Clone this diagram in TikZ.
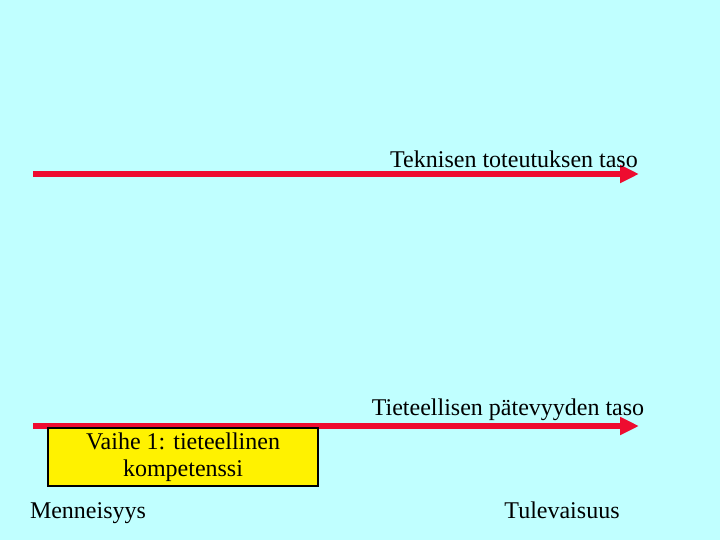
\documentclass[tikz,border=0pt]{standalone}
\usepackage{fontspec}
\setmainfont{Liberation Serif}
\usetikzlibrary{arrows.meta}
\definecolor{bgcyan}{RGB}{192,255,255}
\definecolor{arrred}{RGB}{238,12,48}
\tikzset{
  lvlarrow/.style={draw=arrred, line width=6pt, -{Triangle[length=19pt,width=17pt]}},
  lbl/.style={font=\fontsize{24}{28}\selectfont, inner sep=0pt, anchor=base},
  phasebox/.style={draw=black, line width=1.6pt, fill=yellow, minimum width=270pt, minimum height=58pt, inner sep=0pt, align=center, font=\fontsize{24}{27}\selectfont}
}
\begin{document}
\begin{tikzpicture}[x=1pt,y=-1pt]
\fill[bgcyan] (0,0) rectangle (720,540);
\useasboundingbox (0,0) rectangle (720,540);
\coordinate (a1s) at (33,174);
\coordinate (a1e) at (639,174);
\coordinate (a2s) at (33,426);
\coordinate (a2e) at (639,426);
\draw[lvlarrow] (a1s) -- (a1e);
\draw[lvlarrow] (a2s) -- (a2e);
\node[lbl] (tek) at (514,168) {Teknisen toteutuksen taso};
\node[lbl] (tiet) at (508,415) {Tieteellisen pätevyyden taso};
\node[phasebox] (vaihe) at (183,457) {Vaihe 1: tieteellinen\\kompetenssi};
\node[lbl] (menn) at (88,518) {Menneisyys};
\node[lbl] (tule) at (562,518) {Tulevaisuus};
\end{tikzpicture}
\end{document}
